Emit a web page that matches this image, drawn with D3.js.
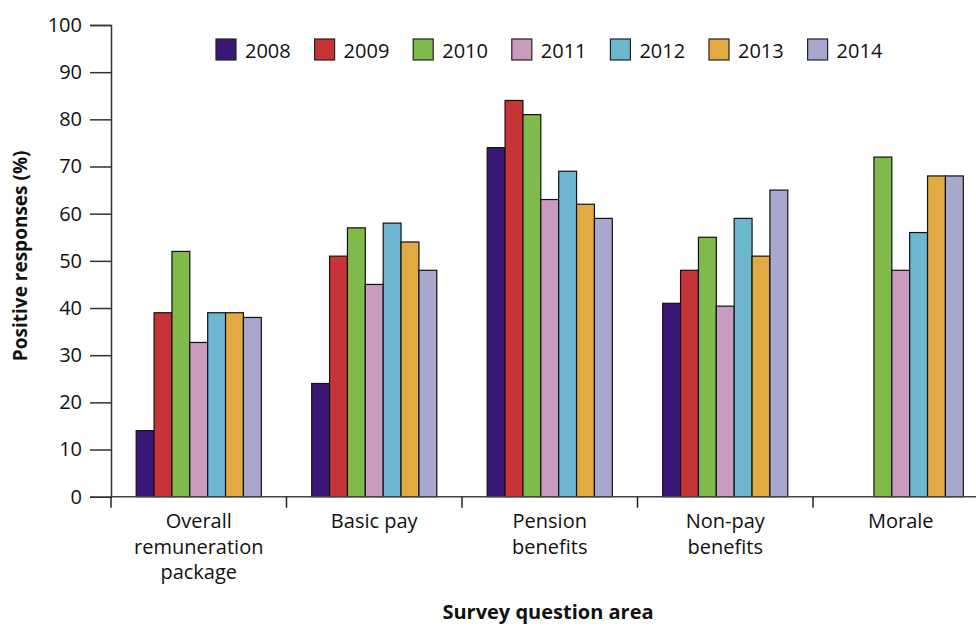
<!DOCTYPE html>
<html>
<head>
<meta charset="utf-8">
<script src="https://cdn.jsdelivr.net/npm/d3@7"></script>
<style>
  html, body { margin: 0; padding: 0; background: #fff; }
  svg { display: block; }
  text { font-family: "Open Sans", "Noto Sans", sans-serif; fill: #111; }
</style>
</head>
<body>
<script>
// Survey question areas (x categories)
const categories = [
  ["Overall", "remuneration", "package"],
  ["Basic pay"],
  ["Pension", "benefits"],
  ["Non-pay", "benefits"],
  ["Morale"]
];
const years = ["2008", "2009", "2010", "2011", "2012", "2013", "2014"];
const colors = ["#3b1877", "#c73437", "#7fba4a", "#c99bbf", "#6cb7cf", "#e1aa42", "#a8a8cf"];

// Positive responses (%) per year, one entry per category; null = not asked
const v2008 = [14, 24, 74, 41, null];
const v2009 = [39, 51, 84, 48, null];
const v2010 = [52, 57, 81, 55, 72];
const v2011 = [32.7, 45, 63, 40.4, 48];
const v2012 = [39, 58, 69, 59, 56];
const v2013 = [39, 54, 62, 51, 68];
const v2014 = [38, 48, 59, 65, 68];
const series = [v2008, v2009, v2010, v2011, v2012, v2013, v2014];

const yTicks = [0, 10, 20, 30, 40, 50, 60, 70, 80, 90, 100];

const W = 976, H = 626;
const mLeft = 111, mRight = 988.5, mTop = 25, mBottom = 496.7;

const svg = d3.select("body").append("svg").attr("width", W).attr("height", H);

const catKeys = categories.map((c, i) => i);
const x0 = d3.scaleBand().domain(catKeys).range([mLeft, mRight]).padding(0);
const x1 = d3.scaleBand().domain(years).range([0, x0.bandwidth()])
  .paddingInner(0).paddingOuter(1.41);
const y = d3.scaleLinear().domain([0, 100]).range([mBottom, mTop]);

// Bars
const groups = svg.append("g").selectAll("g")
  .data(catKeys).join("g")
  .attr("transform", d => `translate(${x0(d)},0)`);

groups.selectAll("rect")
  .data(ci => years.map((yr, si) => ({ yr, si, v: series[si][ci] })).filter(d => d.v != null))
  .join("rect")
  .attr("x", d => x1(d.yr))
  .attr("y", d => y(d.v))
  .attr("width", x1.bandwidth())
  .attr("height", d => mBottom - y(d.v))
  .attr("fill", d => colors[d.si])
  .attr("stroke", "#111")
  .attr("stroke-width", 1.2);

// Y axis
const yAxis = d3.axisLeft(y).tickValues(yTicks).tickSize(21).tickPadding(8);
const gy = svg.append("g").attr("transform", `translate(${mLeft},0)`).call(yAxis);
gy.select(".domain").attr("stroke", "#333").attr("stroke-width", 1.5);
gy.selectAll(".tick line").attr("stroke", "#333").attr("stroke-width", 1.5);
gy.selectAll(".tick text")
  .style("font-family", '"Open Sans", sans-serif')
  .style("font-size", "20px").attr("fill", "#111");

// X axis line with category boundary ticks
const gx = svg.append("g");
gx.append("line")
  .attr("x1", mLeft).attr("x2", mRight)
  .attr("y1", mBottom).attr("y2", mBottom)
  .attr("stroke", "#444").attr("stroke-width", 1.5);
const bounds = catKeys.map(k => x0(k)).concat([x0(catKeys[catKeys.length - 1]) + x0.bandwidth()]);
gx.selectAll("line.b").data(bounds).join("line").attr("class", "b")
  .attr("x1", d => d).attr("x2", d => d)
  .attr("y1", mBottom).attr("y2", mBottom + 11)
  .attr("stroke", "#222").attr("stroke-width", 1.5);

// Category labels
const lab = gx.selectAll("text.cat").data(catKeys).join("text").attr("class", "cat")
  .attr("text-anchor", "middle")
  .attr("x", d => x0(d) + x0.bandwidth() / 2)
  .attr("y", 528)
  .style("font-size", "20px");
lab.selectAll("tspan").data(d => categories[d]).join("tspan")
  .attr("x", function () { return d3.select(this.parentNode).attr("x"); })
  .attr("dy", (d, i) => i === 0 ? 0 : 25.5)
  .text(d => d);

// Axis titles
svg.append("text")
  .attr("x", 548).attr("y", 619)
  .attr("text-anchor", "middle")
  .style("font-size", "20px").style("font-weight", "bold")
  .text("Survey question area");

svg.append("text")
  .attr("transform", `translate(27,${(mTop + mBottom) / 2 - 5}) rotate(-90)`)
  .attr("text-anchor", "middle")
  .style("font-size", "19px").style("font-weight", "bold")
  .text("Positive responses (%)");

// Legend
const leg = svg.append("g").selectAll("g").data(years).join("g")
  .attr("transform", (d, i) => `translate(${216 + i * 98.6},39)`);
leg.append("rect")
  .attr("width", 20).attr("height", 21)
  .attr("fill", (d, i) => colors[i])
  .attr("stroke", "#222").attr("stroke-width", 1.2);
leg.append("text")
  .attr("x", 29).attr("y", 18.5)
  .style("font-size", "20px")
  .text(d => d);
</script>
</body>
</html>
